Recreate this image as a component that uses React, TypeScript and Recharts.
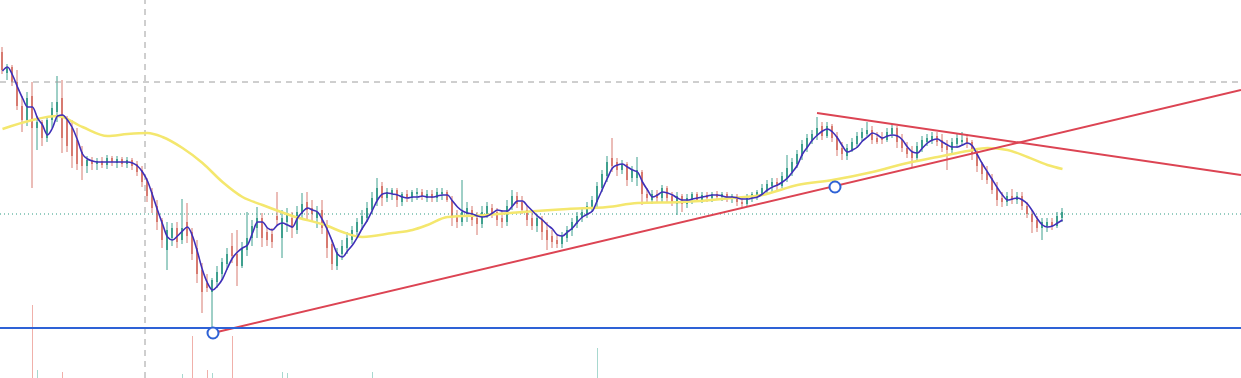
import { ComposedChart, Bar, Line, XAxis, YAxis, ReferenceLine, ReferenceDot, Cell } from "recharts"

// [open, high, low, close], one per bar
const candles: [number, number, number, number][] = [
  [326, 331, 304, 308], [305, 314, 298, 311], [311, 313, 292, 296], [296, 308, 268, 272], [272, 282, 246, 258],
  [258, 286, 252, 280], [282, 296, 190, 250], [250, 262, 228, 256], [256, 258, 232, 240], [240, 262, 236, 258],
  [258, 276, 250, 270], [266, 302, 256, 276], [280, 298, 225, 240], [258, 262, 226, 232], [250, 258, 210, 222],
  [238, 250, 208, 214], [226, 232, 198, 212], [212, 222, 205, 218], [218, 221, 208, 214], [214, 220, 208, 217],
  [217, 221, 210, 213], [213, 223, 209, 220], [220, 222, 212, 216], [215, 222, 210, 219], [219, 221, 211, 214],
  [214, 221, 210, 218], [218, 220, 208, 212], [214, 217, 202, 206], [208, 212, 191, 196], [198, 200, 176, 182],
  [186, 190, 165, 170], [172, 178, 148, 156], [158, 160, 130, 138], [128, 156, 108, 148], [140, 155, 132, 150],
  [150, 156, 130, 136], [138, 179, 134, 150], [156, 175, 135, 142], [146, 150, 118, 124], [130, 138, 95, 104],
  [108, 115, 65, 86], [95, 104, 86, 90], [86, 100, 48, 98], [96, 112, 90, 106], [104, 120, 98, 116],
  [114, 130, 108, 124], [132, 145, 115, 122], [124, 148, 92, 112], [112, 136, 110, 130], [128, 166, 122, 140],
  [140, 158, 132, 152], [150, 171, 140, 160], [160, 165, 131, 140], [146, 150, 132, 138], [144, 150, 130, 136],
  [162, 186, 152, 158], [140, 168, 120, 160], [156, 170, 146, 164], [160, 166, 140, 150], [148, 172, 144, 166],
  [164, 185, 158, 174], [176, 186, 158, 168], [170, 178, 156, 164], [160, 172, 150, 166], [168, 178, 144, 150],
  [152, 158, 120, 130], [134, 138, 108, 114], [112, 130, 108, 126], [124, 138, 118, 132], [130, 146, 124, 140],
  [138, 152, 134, 148], [146, 160, 140, 156], [154, 168, 148, 162], [160, 176, 156, 170], [168, 186, 164, 180],
  [178, 200, 172, 190], [192, 196, 172, 180], [180, 190, 176, 186], [184, 190, 178, 188], [188, 190, 171, 178],
  [176, 186, 172, 184], [184, 188, 176, 180], [180, 188, 176, 186], [184, 190, 178, 186], [186, 189, 178, 182],
  [180, 188, 176, 184], [184, 188, 176, 180], [180, 190, 176, 186], [184, 190, 178, 186], [186, 188, 176, 178],
  [178, 182, 152, 160], [162, 168, 150, 156], [156, 198, 152, 166], [164, 176, 156, 170], [168, 172, 152, 158],
  [160, 166, 143, 154], [154, 172, 150, 166], [164, 176, 160, 172], [170, 174, 160, 164], [166, 170, 152, 158],
  [160, 168, 150, 156], [156, 178, 152, 172], [172, 188, 168, 182], [182, 186, 170, 174], [176, 182, 164, 168],
  [168, 172, 152, 158], [160, 166, 148, 152], [152, 164, 146, 160], [158, 162, 138, 146], [148, 156, 128, 138],
  [142, 148, 130, 136], [138, 144, 130, 134], [134, 146, 130, 142], [140, 152, 136, 148], [148, 160, 142, 156],
  [154, 166, 150, 162], [160, 170, 156, 166], [164, 176, 160, 172], [170, 182, 166, 178], [176, 196, 170, 192],
  [190, 208, 186, 204], [202, 222, 196, 216], [220, 240, 206, 212], [216, 220, 202, 208], [208, 218, 204, 214],
  [214, 216, 192, 198], [200, 212, 196, 208], [200, 221, 192, 208], [206, 208, 173, 184], [184, 190, 176, 180],
  [178, 188, 174, 184], [184, 188, 176, 180], [180, 193, 176, 190], [190, 192, 176, 180], [182, 186, 172, 176],
  [174, 186, 163, 182], [182, 184, 166, 174], [174, 184, 170, 180], [178, 186, 174, 184], [184, 186, 176, 178],
  [178, 186, 175, 183], [183, 186, 176, 180], [180, 186, 176, 184], [184, 187, 178, 181], [181, 186, 177, 184],
  [184, 186, 176, 179], [179, 184, 175, 182], [182, 184, 172, 176], [176, 180, 171, 174], [174, 184, 172, 182],
  [180, 186, 176, 184], [182, 188, 178, 186], [184, 194, 182, 190], [188, 198, 184, 194], [192, 200, 186, 196],
  [196, 200, 188, 192], [192, 206, 190, 202], [200, 223, 196, 210], [206, 220, 202, 216], [214, 228, 210, 224],
  [222, 238, 218, 234], [230, 244, 226, 240], [238, 248, 234, 244], [242, 261, 238, 250], [252, 256, 238, 242],
  [242, 256, 240, 252], [252, 254, 236, 240], [242, 246, 222, 228], [230, 236, 218, 224], [222, 234, 218, 230],
  [228, 240, 226, 236], [234, 246, 230, 242], [240, 250, 236, 246], [244, 256, 240, 248], [248, 252, 234, 238],
  [240, 246, 234, 236], [240, 246, 234, 238], [238, 250, 236, 246], [244, 254, 240, 250], [250, 252, 230, 236],
  [238, 244, 226, 230], [230, 236, 220, 224], [226, 232, 210, 220], [220, 236, 216, 232], [230, 242, 226, 238],
  [236, 244, 232, 240], [238, 246, 234, 242], [242, 246, 232, 236], [238, 244, 226, 230], [232, 238, 208, 228],
  [228, 240, 224, 236], [234, 244, 230, 240], [236, 246, 232, 238], [240, 244, 230, 234], [236, 238, 218, 224],
  [226, 228, 206, 212], [214, 216, 198, 204], [206, 212, 194, 198], [200, 204, 184, 188], [190, 196, 172, 178],
  [180, 186, 171, 176], [176, 186, 172, 182], [182, 189, 174, 178], [178, 186, 174, 182], [182, 186, 168, 172],
  [172, 176, 160, 164], [164, 168, 145, 156], [158, 162, 146, 150], [150, 160, 138, 156], [152, 160, 146, 156],
  [156, 160, 148, 152], [152, 166, 150, 162], [160, 170, 156, 166],
]

// fast moving average (purple)
const fastMa = [
  307, 311, 303, 291, 280, 271, 271, 260, 253, 243,
  250, 262, 263, 258, 250, 238, 224, 219, 217, 216,
  216, 216, 216, 216, 216, 216, 215, 212, 206, 197,
  183, 168, 154, 141, 138, 142, 147, 151, 142, 126,
  108, 95, 88, 92, 99, 110, 120, 126, 130, 133,
  145, 156, 156, 150, 148, 153, 155, 153, 151, 160,
  166, 170, 168, 166, 158, 148, 136, 124, 121, 127,
  133, 141, 150, 158, 168, 178, 184, 185, 184, 183,
  181, 180, 181, 181, 182, 181, 181, 182, 183, 183,
  177, 171, 167, 165, 164, 162, 161, 162, 165, 168,
  167, 167, 172, 177, 177, 172, 167, 162, 158, 153,
  149, 143, 142, 146, 150, 156, 161, 164, 167, 178,
  189, 200, 210, 213, 214, 211, 208, 206, 196, 188,
  181, 183, 186, 185, 183, 180, 178, 178, 179, 180,
  181, 182, 183, 183, 182, 181, 181, 180, 179, 179,
  180, 181, 184, 188, 191, 193, 196, 200, 206, 213,
  224, 231, 238, 243, 247, 249, 246, 240, 232, 226,
  228, 231, 237, 241, 245, 243, 240, 242, 243, 242,
  238, 231, 226, 225, 230, 235, 238, 239, 236, 233,
  231, 231, 233, 235, 232, 223, 214, 206, 198, 190,
  183, 178, 179, 180, 178, 174, 167, 159, 153, 151,
  152, 155, 158,
]

// slow moving average (yellow), read at these bars
const slowIdx = [0, 6, 11, 16, 21, 25, 29, 32, 36, 40, 44, 48, 52, 58, 65, 68, 72, 78, 82, 85, 89, 97, 104, 113, 121, 127, 136, 146, 152, 159, 166, 174, 181, 188, 193, 197, 201, 205, 209, 212]
const slowVal = [249, 258, 262, 251, 242, 244, 245, 241, 230, 215, 196, 181, 173, 162, 152, 146, 141, 145, 148, 153, 161, 163, 166, 169, 171, 175, 176, 180, 183, 193, 198, 206, 215, 222, 227, 230, 228, 221, 213, 209]

const volumes = [
  0, 0, 0, 0, 0, 0, 73, 8, 0, 0,
  0, 0, 6, 0, 0, 0, 0, 0, 0, 0,
  0, 0, 0, 0, 0, 0, 0, 0, 0, 0,
  0, 0, 0, 0, 0, 0, 4, 0, 42, 0,
  0, 8, 5, 0, 0, 0, 42, 0, 0, 0,
  0, 0, 0, 0, 0, 0, 6, 5, 0, 0,
  0, 0, 0, 0, 0, 0, 0, 0, 0, 0,
  0, 0, 0, 0, 6, 0, 0, 0, 0, 0,
  0, 0, 0, 0, 0, 0, 0, 0, 0, 0,
  0, 0, 0, 0, 0, 0, 0, 0, 0, 0,
  0, 0, 0, 0, 0, 0, 0, 0, 0, 0,
  0, 0, 0, 0, 0, 0, 0, 0, 0, 30,
  0, 0, 0, 0, 0, 0, 0, 0, 0, 0,
  0, 0, 0, 0, 0, 0, 0, 0, 0, 0,
  0, 0, 0, 0, 0, 0, 0, 0, 0, 0,
  0, 0, 0, 0, 0, 0, 0, 0, 0, 0,
  0, 0, 0, 0, 0, 0, 0, 0, 0, 0,
  0, 0, 0, 0, 0, 0, 0, 0, 0, 0,
  0, 0, 0, 0, 0, 0, 0, 0, 0, 0,
  0, 0, 0, 0, 0, 0, 0, 0, 0, 0,
  0, 0, 0, 0, 0, 0, 0, 0, 0, 0,
  0, 0, 0,
]

const resistance = 296
const support = 50
const midLevel = 164
const markerBar = 28.5
const trendUp = [{ x: 42.1, y: 45 }, { x: 247.7, y: 288 }]
const trendDown = [{ x: 162.9, y: 265 }, { x: 247.7, y: 203 }]
const pivots = [{ x: 42.1, y: 45 }, { x: 166.5, y: 191 }]

const GREEN = "#3fa08e"
const RED = "#d77a70"
const BLUE = "#2e62d6"
const TREND = "#dc4453"

const slowMap = new Map(slowIdx.map((k, j) => [k, slowVal[j]]))

const rows = candles.map(([open, high, low, close], i) => ({
  i,
  open,
  high,
  low,
  close,
  range: [low, high],
  fast: fastMa[i],
  slow: slowMap.get(i) ?? null,
  vol: volumes[i],
}))

function Candle(props: any) {
  let { x, y, width, height } = props
  const { open, high, low, close } = props.payload
  if (height < 0) {
    y += height
    height = -height
  }
  const cx = x + width / 2
  const span = high - low || 1
  const toY = (v: number) => y + ((high - v) / span) * height
  const color = close >= open ? GREEN : RED
  const top = toY(Math.max(open, close))
  const bot = toY(Math.min(open, close))
  return (
    <g>
      <line x1={cx} x2={cx} y1={y} y2={y + height} stroke={color} strokeWidth={1} />
      <rect x={cx - 1} y={top} width={2} height={Math.max(1, bot - top)} fill={color} />
    </g>
  )
}

export default function App() {
  return (
    <div style={{ position: "absolute", left: 0, top: 0, width: 1241, height: 378, background: "#fff" }}>
      <ComposedChart width={1241} height={378} data={rows} margin={{ top: 0, right: 0, bottom: 0, left: 0 }}>
        <XAxis dataKey="i" type="number" domain={[-0.5, 247.7]} allowDataOverflow hide />
        <XAxis xAxisId="v" dataKey="i" type="number" domain={[-0.5, 247.7]} allowDataOverflow hide />
        <YAxis domain={[0, 378]} allowDataOverflow hide />
        <YAxis yAxisId="vol" domain={[0, 378]} allowDataOverflow hide />

        <ReferenceLine y={resistance} stroke="#9e9e9e" strokeDasharray="6 5" strokeWidth={1} />
        <ReferenceLine x={markerBar} stroke="#9e9e9e" strokeDasharray="6 5" strokeWidth={1} />
        <ReferenceLine y={midLevel} stroke="#2f9b83" strokeDasharray="1 3" strokeWidth={1} />

        <Bar xAxisId="v" yAxisId="vol" dataKey="vol" barSize={1} isAnimationActive={false}>
          {rows.map((r) => (
            <Cell key={r.i} fill={r.close >= r.open ? "#a8d8cf" : "#f0b0aa"} />
          ))}
        </Bar>
        <Bar dataKey="range" barSize={2} shape={<Candle />} activeBar={false} isAnimationActive={false} />

        <Line dataKey="slow" type="monotone" connectNulls stroke="#f4e76e" strokeWidth={2.5} dot={false} activeDot={false} isAnimationActive={false} />
        <Line dataKey="fast" type="monotone" stroke="#3f2fb8" strokeWidth={1.6} dot={false} activeDot={false} isAnimationActive={false} />

        <ReferenceLine segment={trendUp} stroke={TREND} strokeWidth={2} ifOverflow="visible" />
        <ReferenceLine segment={trendDown} stroke={TREND} strokeWidth={2} ifOverflow="visible" />
        <ReferenceLine y={support} stroke={BLUE} strokeWidth={2} />

        {pivots.map((p, k) => (
          <ReferenceDot key={k} x={p.x} y={p.y} r={5.5} fill="#fff" stroke={BLUE} strokeWidth={2} ifOverflow="visible" />
        ))}
      </ComposedChart>
    </div>
  )
}
